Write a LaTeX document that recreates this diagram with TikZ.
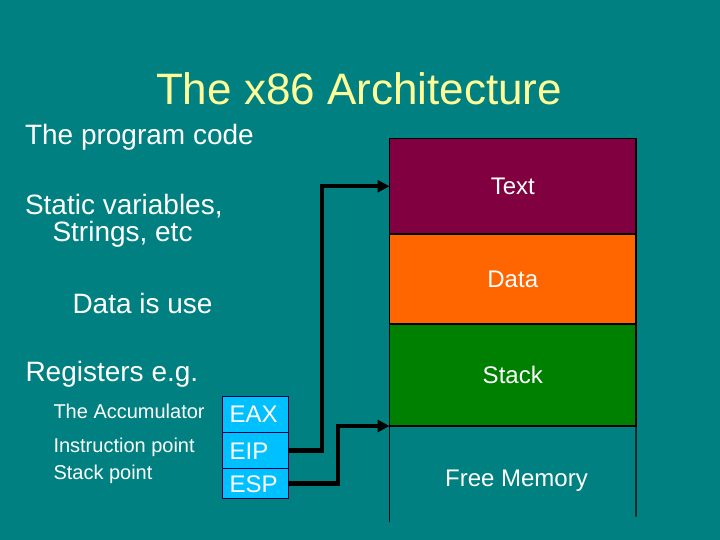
\documentclass[tikz,border=0pt]{standalone}
\usepackage{fontspec}
\setmainfont{Liberation Sans}
\usetikzlibrary{arrows.meta}
\definecolor{bgteal}{HTML}{008080}
\definecolor{titleyellow}{HTML}{FFFF99}
\definecolor{textseg}{HTML}{800040}
\definecolor{dataseg}{HTML}{FF6600}
\definecolor{stackseg}{HTML}{008000}
\definecolor{regblue}{HTML}{00C0FF}
\tikzset{
  every node/.style={inner sep=0pt, outer sep=0pt},
  memseg/.style={draw=black, line width=1.4bp, minimum width=246.5bp, anchor=north west,
     text=white, font=\fontsize{24bp}{28bp}\selectfont},
  regbox/.style={draw=black!70!blue, line width=1bp, fill=regblue, minimum width=65.6bp,
     anchor=north west, text=white, align=left, text width=51.6bp, inner xsep=7bp,
     text height=17.2bp, text depth=0pt, font=\fontsize{24bp}{28bp}\selectfont},
  bigtxt/.style={anchor=base west, text=white, font=\fontsize{28bp}{30bp}\selectfont},
  smalltxt/.style={anchor=base west, text=white, font=\fontsize{20bp}{22bp}\selectfont},
  ptr/.style={line width=4.2bp, -{Triangle[length=12bp,width=12bp]}},
  wall/.style={line width=1.4bp}
}
\begin{document}
\begin{tikzpicture}[x=1bp,y=-1bp]
\fill[bgteal] (0,0) rectangle (720,540);
\useasboundingbox (0,0) rectangle (720,540);
% title
\node[anchor=base, text=titleyellow, font=\fontsize{44bp}{48bp}\selectfont] (title) at (359,105) {The x86 Architecture};
% left texts
\node[bigtxt] (prog) at (25,145) {The program code};
\node[bigtxt] (stat) at (25,215) {Static variables,};
\node[bigtxt] (strs) at (52.5,242) {Strings, etc};
\node[bigtxt] (datause) at (72.5,313.3) {Data is use};
\node[bigtxt] (regs) at (25.5,381.7) {Registers e.g.};
\node[smalltxt] (acc) at (53.5,418.3) {The Accumulator};
\node[smalltxt] (ipt) at (53.5,452.7) {Instruction point};
\node[smalltxt] (spt) at (53.5,479.3) {Stack point};
% memory column
\node[memseg, fill=textseg, minimum height=95.5bp] (Text) at (389.5,138.5) {Text};
\node[memseg, fill=dataseg, minimum height=90bp] (Data) at (389.5,234) {Data};
\node[memseg, fill=stackseg, minimum height=102bp] (Stack) at (389.5,324) {Stack};
\coordinate (freeL) at (389.5,521.7);
\coordinate (freeR) at (636,516.7);
\draw[wall] (Stack.south west) -- (freeL);
\draw[wall] (Stack.south east) -- (freeR);
\node[anchor=base, text=white, font=\fontsize{24bp}{28bp}\selectfont] (Free) at (516.5,486.7) {Free Memory};
% registers
\node[regbox, minimum height=36bp] (EAX) at (222.7,396.3) {EAX};
\node[regbox, minimum height=36.4bp] (EIP) at (222.7,432.3) {EIP};
\node[regbox, minimum height=29.6bp] (ESP) at (222.7,468.7) {ESP};
% pointers
\draw[ptr] (EIP.east) -- ++(33.4,0) |- (Text.west);
\draw[ptr] (ESP.east) -- ++(50,0) |- (Stack.south west);
\end{tikzpicture}
\end{document}
